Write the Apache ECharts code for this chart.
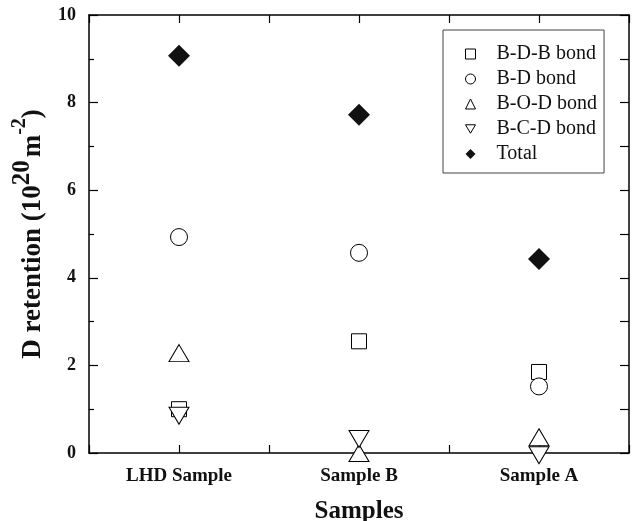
<!DOCTYPE html>
<html lang="en">
<head>
    <meta charset="UTF-8">
    <title>D retention</title>
    <script src="https://cdn.jsdelivr.net/npm/echarts@6/dist/echarts.min.js"></script>
    <style>
        html, body { margin: 0; padding: 0; background: #fff; }
        #main { width: 636px; height: 521px; }
    </style>
</head>
<body>
    <div id="main"></div>
</body>
<script>
    // samples along the x axis
    let categories = ['LHD Sample', 'Sample B', 'Sample A'];
    // D retention values (10^20 m^-2)
    let bdbBond = [1.0, 2.55, 1.85];
    let bdBond = [4.93, 4.57, 1.52];
    let bodBond = [2.28, 0.0, 0.36];
    let bcdBond = [0.85, 0.32, -0.05];
    let total = [9.07, 7.72, 4.43];
    let yTicks = [0, 2, 4, 6, 8, 10];

    let font = 'Liberation Serif, Times New Roman, serif';
    let chart = echarts.init(document.getElementById('main'));

    // category i sits at the middle of its slot on a 0..3 value axis
    function pts(arr) {
        return arr.map(function (v, i) { return [i + 0.5, v]; });
    }

    function hollow(name, symbol, size, data, rotate) {
        return {
            name: name,
            type: 'scatter',
            symbol: symbol,
            symbolSize: size,
            symbolRotate: rotate || 0,
            clip: false,
            itemStyle: { color: '#fff', borderColor: '#000', borderWidth: 1, opacity: 1 },
            emphasis: { disabled: true },
            data: pts(data)
        };
    }

    let axisLine = { show: true, onZero: false, lineStyle: { color: '#000', width: 1.5 } };
    let tickStyle = { color: '#000', width: 1.2 };

    let option = {
        animation: false,
        grid: { left: 89, right: 7, top: 15, bottom: 68, outerBoundsMode: 'none' },
        legend: {
            orient: 'vertical',
            left: 443,
            top: 30,
            padding: [14, 7, 9, 22],
            itemWidth: 10,
            itemHeight: 10,
            itemGap: 5,
            borderColor: '#444',
            borderWidth: 1,
            itemStyle: { borderWidth: 1 },
            textStyle: { fontFamily: font, fontSize: 20, color: '#111', padding: [0, 0, 0, 16] },
            data: [
                'B-D-B bond',
                'B-D bond',
                'B-O-D bond',
                { name: 'B-C-D bond', icon: 'path://M0,0 L20,0 L10,17 Z' },
                'Total'
            ]
        },
        xAxis: [
            {
                type: 'value',
                position: 'bottom',
                min: 0,
                max: 3,
                interval: 0.5,
                name: 'Samples',
                nameLocation: 'middle',
                nameGap: 46,
                nameTextStyle: { fontFamily: font, fontSize: 25, fontWeight: 'bold', color: '#111' },
                axisLine: axisLine,
                axisTick: { inside: true, length: 8, lineStyle: tickStyle },
                axisLabel: {
                    margin: 14,
                    fontFamily: font,
                    fontSize: 19,
                    fontWeight: 'bold',
                    color: '#111',
                    formatter: function (v) {
                        let i = Math.floor(v);
                        return (v - i === 0.5) ? categories[i] : '';
                    }
                },
                splitLine: { show: false }
            },
            {
                type: 'value',
                position: 'top',
                min: 0,
                max: 3,
                interval: 0.5,
                axisLine: axisLine,
                axisTick: { inside: true, length: 8, lineStyle: tickStyle },
                axisLabel: { show: false },
                splitLine: { show: false }
            }
        ],
        yAxis: [
            {
                type: 'value',
                position: 'left',
                min: yTicks[0],
                max: yTicks[yTicks.length - 1],
                interval: 2,
                name: '{b|D retention (10}{s|20}{b|m}{t|-2}{b|)}',
                nameLocation: 'middle',
                nameRotate: 90,
                nameGap: 42,
                nameTextStyle: {
                    rich: {
                        b: { fontFamily: font, fontSize: 27, fontWeight: 'bold', color: '#111', lineHeight: 37, verticalAlign: 'bottom' },
                        s: { fontFamily: font, fontSize: 25, fontWeight: 'bold', color: '#111', lineHeight: 37, verticalAlign: 'top', padding: [0, 3, 0, 0] },
                        t: { fontFamily: font, fontSize: 20, fontWeight: 'bold', color: '#111', lineHeight: 37, verticalAlign: 'top' }
                    }
                },
                axisLine: axisLine,
                axisTick: { inside: true, length: 9, lineStyle: tickStyle },
                minorTick: { show: true, splitNumber: 2, length: 5, lineStyle: tickStyle },
                axisLabel: { margin: 13, fontFamily: font, fontSize: 18, fontWeight: 'bold', color: '#111' },
                splitLine: { show: false },
                minorSplitLine: { show: false }
            },
            {
                type: 'value',
                position: 'right',
                min: 0,
                max: 10,
                interval: 1,
                axisLine: axisLine,
                axisTick: { inside: true, length: 9, lineStyle: tickStyle },
                axisLabel: { show: false },
                splitLine: { show: false }
            }
        ],
        series: [
            hollow('B-D-B bond', 'rect', 15, bdbBond),
            hollow('B-D bond', 'circle', 17, bdBond),
            hollow('B-O-D bond', 'triangle', [20, 17], bodBond),
            hollow('B-C-D bond', 'triangle', [20, 17], bcdBond, 180),
            {
                name: 'Total',
                type: 'scatter',
                symbol: 'diamond',
                symbolSize: [22, 22],
                clip: false,
                itemStyle: { color: '#111', opacity: 1 },
                emphasis: { disabled: true },
                data: pts(total)
            }
        ]
    };
    chart.setOption(option);
</script>
</html>
